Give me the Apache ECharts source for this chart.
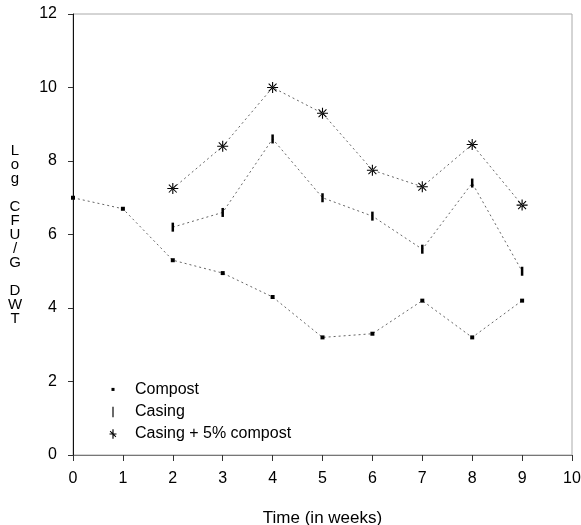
<!DOCTYPE html>
<html>
<head>
<meta charset="utf-8">
<script src="https://cdn.jsdelivr.net/npm/echarts@6/dist/echarts.min.js"></script>
<style>html,body{margin:0;padding:0;background:#fff}#c{width:581px;height:525px}</style>
</head>
<body>
<div id="c"></div>
<script>
const seriesNames = ['Compost', 'Casing', 'Casing + 5% compost'];
const compostWeeks = [0, 1, 2, 3, 4, 5, 6, 7, 8, 9];
const compostValues = [7.0, 6.7, 5.3, 4.95, 4.3, 3.2, 3.3, 4.2, 3.2, 4.2];
const casingWeeks = [2, 3, 4, 5, 6, 7, 8, 9];
const casingValues = [6.2, 6.6, 8.6, 7.0, 6.5, 5.6, 7.4, 5.0];
const mixWeeks = [2, 3, 4, 5, 6, 7, 8, 9];
const mixValues = [7.25, 8.4, 10.0, 9.3, 7.75, 7.3, 8.45, 6.8];
const yTitle = 'L\no\ng\n\nC\nF\nU\n/\nG\n\nD\nW\nT';
const xTitle = 'Time (in weeks)';

const FONT = '"Liberation Sans", Arial, sans-serif';
const starPath = 'path://M-0.6,-6 L0.6,-6 L0.6,6 L-0.6,6 Z M-6,-0.6 L6,-0.6 L6,0.6 L-6,0.6 Z M-4.7,-3.9 L-3.9,-4.7 L4.7,3.9 L3.9,4.7 Z M4.7,-3.9 L3.9,-4.7 L-4.7,3.9 L-3.9,4.7 Z';
const barPath = 'path://M-0.8,-5 L0.8,-5 L0.8,5 L-0.8,5 Z';
// legend icons: degenerate points widen the box so the visible mark stays small
const legendDot = 'path://M-6,-6 L-6,-6 M6,6 L6,6 M-1.3,-1.8 L1.3,-1.8 L1.3,0.8 L-1.3,0.8 Z';
const legendBar = 'path://M-6,-6 L-6,-6 M6,6 L6,6 M-0.5,-4.5 L0.5,-4.5 L0.5,4.5 L-0.5,4.5 Z';
const legendStar = 'path://M-6,-6 L-6,-6 M6,6 L6,6 M-0.5,-4 L0.5,-4 L0.5,4 L-0.5,4 Z M-3,-0.5 L3,-0.5 L3,0.5 L-3,0.5 Z M-2.8,-2.2 L-2.2,-2.8 L2.8,2.2 L2.2,2.8 Z';

function pairs(xs, ys) { return xs.map((x, i) => [x, ys[i]]); }

const lineStyle = { color: '#666', width: 1, type: [2, 3] };

const chart = echarts.init(document.getElementById('c'), null, { renderer: 'canvas' });
chart.setOption({
  animation: false,
  backgroundColor: '#fff',
  textStyle: { fontFamily: FONT, color: '#000' },
  grid: { left: 73, right: 9, top: 14, bottom: 70, containLabel: false, outerBoundsMode: 'none', show: true, borderColor: '#aaa', borderWidth: 1 },
  xAxis: {
    type: 'value', min: 0, max: 10, interval: 1,
    name: xTitle, nameLocation: 'middle', nameGap: 55,
    nameTextStyle: { fontSize: 17, color: '#000', fontFamily: FONT },
    axisLine: { show: true, lineStyle: { color: '#777', width: 1 } },
    axisTick: { show: true, length: 6, lineStyle: { color: '#333' } },
    axisLabel: { fontSize: 16, color: '#000', margin: 16, fontFamily: FONT },
    splitLine: { show: false }
  },
  yAxis: {
    type: 'value', min: 0, max: 12, interval: 2,
    name: yTitle, nameLocation: 'middle', nameRotate: 0, nameGap: 58,
    nameTextStyle: { fontSize: 15, lineHeight: 14, color: '#000', fontFamily: FONT, align: 'center', padding: [14, 0, 0, 0] },
    axisLine: { show: true, lineStyle: { color: '#111', width: 1 } },
    axisTick: { show: true, length: 5, lineStyle: { color: '#333' } },
    axisLabel: { fontSize: 16, color: '#000', margin: 16, fontFamily: FONT },
    splitLine: { show: false }
  },
  legend: {
    orient: 'vertical', left: 101, top: 377,
    itemWidth: 14, itemHeight: 14, itemGap: 6,
    textStyle: { fontSize: 16, lineHeight: 14, color: '#000', fontFamily: FONT, padding: [0, 0, 0, 10] },
    data: [
      { name: seriesNames[0], icon: legendDot },
      { name: seriesNames[1], icon: legendBar },
      { name: seriesNames[2], icon: legendStar }
    ]
  },
  series: [
    {
      name: seriesNames[0], type: 'line', data: pairs(compostWeeks, compostValues),
      symbol: 'rect', symbolSize: 4, itemStyle: { color: '#000' },
      lineStyle: lineStyle
    },
    {
      name: seriesNames[1], type: 'line', data: pairs(casingWeeks, casingValues),
      symbol: barPath, symbolSize: [2.5, 9], itemStyle: { color: '#000' },
      lineStyle: lineStyle
    },
    {
      name: seriesNames[2], type: 'line', data: pairs(mixWeeks, mixValues),
      symbol: starPath, symbolSize: 11, itemStyle: { color: '#000' },
      lineStyle: lineStyle
    }
  ]
});
</script>
</body>
</html>
